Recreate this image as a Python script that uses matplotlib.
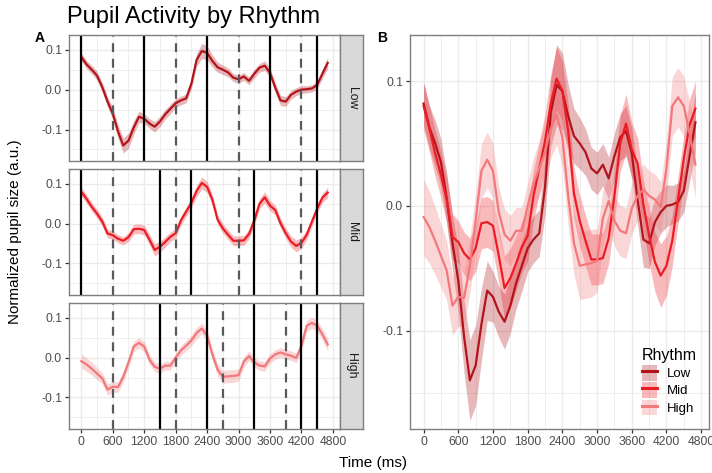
import numpy as np
import matplotlib
matplotlib.use("Agg")
import matplotlib.pyplot as plt
from matplotlib.patches import Patch
from matplotlib.lines import Line2D

plt.rcParams["font.family"] = ["Liberation Sans", "DejaVu Sans"]

# time axis (ms), one sample every 100 ms
time_ms = np.arange(0, 4800, 100)

low_mean = [0.082, 0.063, 0.050, 0.035, 0.006, -0.030, -0.060, -0.105, -0.140, -0.128,
            -0.095, -0.068, -0.073, -0.085, -0.093, -0.080, -0.062, -0.048, -0.034, -0.027,
            -0.022, 0.015, 0.075, 0.097, 0.092, 0.072, 0.056, 0.050, 0.043, 0.030,
            0.026, 0.033, 0.022, 0.040, 0.055, 0.060, 0.042, 0.005, -0.027, -0.030,
            -0.013, -0.005, 0.000, 0.001, 0.003, 0.012, 0.040, 0.067]
mid_mean = [0.080, 0.062, 0.042, 0.025, 0.005, -0.025, -0.029, -0.038, -0.043, -0.034,
            -0.014, -0.013, -0.016, -0.040, -0.066, -0.058, -0.046, -0.033, -0.024, 0.008,
            0.030, 0.052, 0.082, 0.102, 0.092, 0.060, 0.010, -0.012, -0.028, -0.043,
            -0.043, -0.042, -0.026, 0.008, 0.050, 0.066, 0.045, 0.034, 0.001, -0.024,
            -0.045, -0.056, -0.048, -0.028, 0.005, 0.038, 0.065, 0.078]
high_mean = [-0.009, -0.017, -0.028, -0.040, -0.052, -0.080, -0.073, -0.074, -0.048, -0.012,
             0.028, 0.037, 0.028, -0.005, -0.023, -0.028, -0.020, -0.020, 0.000, 0.018,
             0.030, 0.043, 0.062, 0.073, 0.055, 0.008, -0.030, -0.048, -0.047, -0.046,
             -0.044, -0.010, 0.004, -0.012, -0.020, -0.022, -0.002, 0.008, 0.013, 0.008,
             0.005, -0.001, 0.030, 0.080, 0.087, 0.080, 0.058, 0.033]

low_se = [0.010, 0.010, 0.011, 0.011, 0.012, 0.013, 0.015, 0.017, 0.019, 0.019,
          0.017, 0.014, 0.012, 0.012, 0.013, 0.013, 0.012, 0.012, 0.011, 0.011,
          0.011, 0.013, 0.016, 0.019, 0.018, 0.015, 0.013, 0.012, 0.011, 0.010,
          0.010, 0.010, 0.010, 0.011, 0.011, 0.012, 0.012, 0.012, 0.013, 0.012,
          0.011, 0.010, 0.010, 0.009, 0.009, 0.010, 0.012, 0.014]
mid_se = [0.011, 0.011, 0.011, 0.011, 0.011, 0.011, 0.010, 0.010, 0.010, 0.011,
          0.012, 0.012, 0.012, 0.013, 0.015, 0.014, 0.013, 0.012, 0.012, 0.012,
          0.012, 0.013, 0.014, 0.015, 0.014, 0.013, 0.012, 0.012, 0.012, 0.012,
          0.012, 0.012, 0.012, 0.012, 0.013, 0.014, 0.013, 0.012, 0.012, 0.013,
          0.014, 0.015, 0.014, 0.012, 0.011, 0.011, 0.012, 0.013]
high_se = [0.018, 0.017, 0.016, 0.015, 0.014, 0.014, 0.014, 0.013, 0.013, 0.013,
           0.013, 0.013, 0.013, 0.012, 0.012, 0.012, 0.011, 0.011, 0.011, 0.012,
           0.013, 0.014, 0.014, 0.014, 0.014, 0.014, 0.015, 0.016, 0.016, 0.016,
           0.015, 0.013, 0.012, 0.012, 0.012, 0.012, 0.012, 0.012, 0.012, 0.012,
           0.012, 0.012, 0.013, 0.014, 0.014, 0.014, 0.015, 0.016]

rhythms = ["Low", "Mid", "High"]
colors = ["#B2141C", "#EC1C24", "#F2787C"]
means = [low_mean, mid_mean, high_mean]
ses = [low_se, mid_se, high_se]

# stimulus onsets per rhythm: solid = beat, dashed = midpoint
solid_onsets = [[0, 1200, 2400, 3600, 4500],
                [0, 1500, 2100, 3300, 4500],
                [1500, 2400, 3300, 4200, 4500]]
dashed_onsets = [[600, 1800, 3000, 4200],
                 [600, 1800, 3000, 4200],
                 [600, 1800, 2700, 3900]]

ci_scale = 1.7  # panel B band is wider than the facet bands
xticks = [0, 600, 1200, 1800, 2400, 3000, 3600, 4200, 4800]
xminor = [300, 900, 1500, 2100, 2700, 3300, 3900, 4500]
yticks = [-0.1, 0.0, 0.1]
yminor = [-0.15, -0.05, 0.05]
xlim = (-235, 4935)
ylim = (-0.179, 0.137)

W, H = 712, 473
fig = plt.figure(figsize=(W / 100, H / 100), dpi=100)


def box(l, t, r, b):
    return [l / W, 1 - b / H, (r - l) / W, (b - t) / H]


def style_axes(ax, show_x=True):
    ax.set_xlim(*xlim)
    ax.set_ylim(*ylim)
    ax.set_xticks(xticks)
    ax.set_xticks(xminor, minor=True)
    ax.set_yticks(yticks)
    ax.set_yticks(yminor, minor=True)
    ax.set_yticklabels(["-0.1", "0.0", "0.1"])
    ax.grid(which="major", color="#EBEBEB", lw=1.0)
    ax.grid(which="minor", color="#EBEBEB", lw=0.6)
    ax.set_axisbelow(True)
    for s in ax.spines.values():
        s.set_color("#7F7F7F")
        s.set_linewidth(1.0)
    ax.tick_params(which="major", length=3, width=0.9, color="#333333",
                   labelsize=8.8, labelcolor="#4D4D4D", pad=2)
    ax.tick_params(which="minor", length=0)
    if not show_x:
        ax.tick_params(axis="x", which="major", length=0, labelbottom=False)


left_boxes = [(69, 35, 340, 161), (69, 169, 340, 295), (69, 303, 340, 429)]
for i in range(3):
    ax = fig.add_axes(box(*left_boxes[i]))
    m = np.array(means[i])
    s = np.array(ses[i])
    ax.fill_between(time_ms, m - s, m + s, color=colors[i], alpha=0.3, lw=0)
    ax.plot(time_ms, m, color=colors[i], lw=1.6)
    for x in solid_onsets[i]:
        ax.axvline(x, color="black", lw=1.6)
    for x in dashed_onsets[i]:
        ax.axvline(x, color="#595959", lw=1.6, ls=(0, (4, 3)))
    style_axes(ax, show_x=(i == 2))
    # facet strip
    l, t, r, b = left_boxes[i]
    sax = fig.add_axes(box(r, t, 363, b))
    sax.set_facecolor("#D9D9D9")
    sax.set_xticks([])
    sax.set_yticks([])
    for sp in sax.spines.values():
        sp.set_color("#7F7F7F")
        sp.set_linewidth(1.0)
    sax.text(0.5, 0.5, rhythms[i], rotation=270, ha="center", va="center",
             fontsize=8.8, color="#1A1A1A", transform=sax.transAxes)

# panel B: all rhythms together
axb = fig.add_axes(box(410, 35, 709, 429))
for i in range(3):
    m = np.array(means[i])
    s = np.array(ses[i]) * ci_scale
    axb.fill_between(time_ms, m - s, m + s, color=colors[i], alpha=0.3, lw=0)
for i in range(3):
    axb.plot(time_ms, means[i], color=colors[i], lw=1.6)
style_axes(axb)

handles = [(Patch(facecolor=c, alpha=0.3, lw=0), Line2D([], [], color=c, lw=2.2)) for c in colors]
leg = axb.legend(handles, rhythms, title="Rhythm", loc="lower right",
                 bbox_to_anchor=(0.985, 0.015), frameon=False, fontsize=9.5,
                 title_fontsize=11.5, handlelength=1.15, handleheight=1.45,
                 handletextpad=0.8, labelspacing=0.12, borderaxespad=0.2)
leg._legend_box.align = "left"

fig.text(67 / W, 1 - 17 / H, "Pupil Activity by Rhythm", fontsize=17,
         ha="left", va="center")
fig.text(35 / W, 1 - 38 / H, "A", fontsize=10, fontweight="bold", ha="left", va="center")
fig.text(377 / W, 1 - 38 / H, "B", fontsize=10, fontweight="bold", ha="left", va="center")
fig.text(15 / W, 1 - 232 / H, "Normalized pupil size (a.u.)", fontsize=11,
         rotation=90, ha="center", va="center")
fig.text(373 / W, 1 - 463 / H, "Time (ms)", fontsize=11, ha="center", va="center")

fig.savefig("out.png", dpi=100)
